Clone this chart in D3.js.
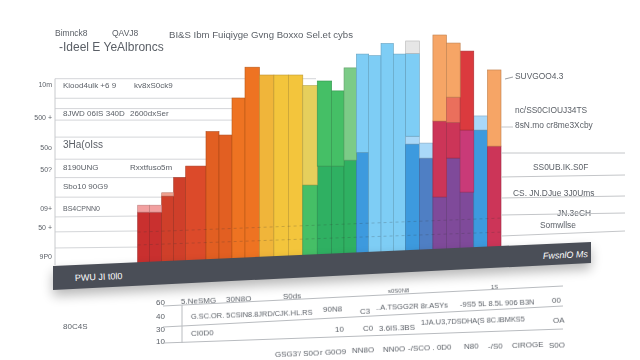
<!DOCTYPE html>
<html>
<head>
<meta charset="utf-8">
<script src="https://cdn.jsdelivr.net/npm/d3@7"></script>
<style>
  html, body { margin: 0; background: #fff; }
  text { font-family: "Liberation Sans", sans-serif; fill: #5a5f66; font-size: 8.5px; }
</style>
</head>
<body>
<div id="chart"></div>
<script>
// bar heights per layer, bottom to top (0 = layer not used)
const bars = d3.range(27);
const baseValues = [23, 23, 30, 38, 43, 58, 56.5, 72.6, 86, 82.6, 82.6, 82.6, 34.8, 43, 43, 45.6, 49, 91, 96.3, 91.7, 52.6, 46.5, 29.6, 46.5, 31.7, 58.7, 51.7];
const midValues = [3, 3, 1.4, 0, 0, 0, 0, 0, 0, 0, 0, 0, 43.2, 37, 32.7, 40.1, 42.7, 0, 0, 0, 3.4, 6.5, 33, 15.5, 27, 6.1, 33.1];
const upperValues = [0, 0, 0, 0, 0, 0, 0, 0, 0, 0, 0, 0, 0, 0, 0, 0, 0, 0, 0, 0, 36, 0, 37.4, 11, 34.3, 0, 0];
const capValues = [0, 0, 0, 0, 0, 0, 0, 0, 0, 0, 0, 0, 0, 0, 0, 0, 0, 0, 0, 0, 5.4, 0, 0, 23.5, 0, 0, 0];

const baseGroup = ["crimson", "crimson", "brick", "brick", "scarlet", "rust", "rust", "tangerine", "tangerine", "amber", "gold", "gold", "green", "deepgreen", "deepgreen", "deepgreen", "azure", "sky", "sky", "sky", "azure", "steel", "purple", "purple", "purple", "azure", "rose"];
const midGroup = ["pink", "pink", "salmon", "", "", "", "", "", "", "", "", "", "straw", "green", "green", "mint", "sky", "", "", "", "pale", "pale", "rose", "rose", "magenta", "pale", "peach"];
const upperGroup = ["", "", "", "", "", "", "", "", "", "", "", "", "", "", "", "", "", "", "", "", "sky", "", "peach", "coral", "red", "", ""];
const capGroup = ["", "", "", "", "", "", "", "", "", "", "", "", "", "", "", "", "", "", "", "", "mist", "", "", "peach", "", "", ""];

const groupNames = ["crimson", "brick", "scarlet", "rust", "tangerine", "amber", "gold", "straw", "green", "deepgreen", "mint", "azure", "sky", "pale", "mist", "steel", "purple", "rose", "magenta", "red", "coral", "peach", "salmon", "pink"];
const groupColors = ["#c9302f", "#cf3f2a", "#dc4a2a", "#e25f22", "#ee7322", "#f0b53a", "#f3c53c", "#e6cf5c", "#45bf66", "#2fb062", "#7ccb87", "#3d9ade", "#7ecdf5", "#a9d8f8", "#e6e6e6", "#4f7fc4", "#7f4a9a", "#cc3558", "#c93a78", "#db3a3e", "#ea6f5c", "#f6a566", "#f0a08e", "#f2a0a0"];

const yTickValues = [78.7, 64.3, 51.3, 41.7, 24.8, 16.5, 3.9];
const yTickLabels = ["10m", "500 +", "50o", "50?", "09+", "50 +", "9P0"];
const gridValues = [81, 72.5, 68, 63, 55.6, 46, 38, 29.5, 20.9, 14.4, 7.4];

const titleLeft = ["Bimnck8", "QAVJ8", "BI&S Ibm Fuiqiyge Gvng Boxxo Sel.et cybs"];
const subtitle = "-Ideel E YeAlbroncs";
const leftNotes = ["Kiood4ulk +6 9", "kv8xS0ck9", "8JWD 06IS 340D", "2600dxSer", "3Ha(oIss", "8190UNG", "Rxxtfuso5m", "Sbo10 90G9", "BS4CPNN0"];
const rightNotes = ["SUVGOO4.3", "nc/SS0CIOUJ34TS", "8sN.mo cr8me3Xcby", "SS0UB.IK.S0F", "CS. JN.DJue 3J0Ums", "JN.3eCH", "Somwllse"];
const tableTicks = ["60", "40", "30", "10"];
const tableText = ["5.NeSMG", "30N8O", "S0ds", "G.SC.OR. 5CSIN8.8JRD/CJK.HL.RS", "CI0D0", "90N8", "C3", "..A.TSGG2R 8r.ASYs", "-9S5 5L 8.5L 906 B3N", "00", "10", "C0", "3.6IS.3BS", "1JA.U3,7DSDHA(S 8C.lBMKS5", "OA", "GSG3'/ S0O", "r G0O9", "NN8O", "NN0O", "-/SCO . 0D0", "N80", "-/S0", "CIROGE", "S0O", "s0S0N8", "1S"];
const bandLeft = "PWU JI t0l0";
const bandRight = "FwsnlO Ms";

const width = 640;
const height = 360;

const svg = d3.select("#chart")
  .append("svg")
  .attr("width", width)
  .attr("height", height)
  .style("display", "block");

const defs = svg.append("defs");
defs.append("filter").attr("id", "shadow")
  .attr("x", "-5%").attr("y", "-60%").attr("width", "110%").attr("height", "240%")
  .append("feGaussianBlur").attr("stdDeviation", 6);
defs.append("filter").attr("id", "soft")
  .append("feGaussianBlur").attr("stdDeviation", 0.35);

// bars are not quite even in the picture, hence the knots
const x = d3.scaleLinear()
  .domain([0, 4, 5, 8, 14, 20, 27])
  .range([137.7, 185.7, 206, 245, 331.7, 405.7, 501]);
const y = d3.scaleLinear().domain([0, 100]).range([265, 35]);
const color = d3.scaleOrdinal().domain(groupNames).range(groupColors);

// grid and axis
const grid = svg.append("g");
grid.selectAll("line")
  .data(gridValues)
  .join("line")
  .attr("x1", 55)
  .attr("x2", (d, i) => i === 0 ? 316 : 240)
  .attr("y1", d => y(d))
  .attr("y2", (d, i) => y(d) - (i > 7 ? 2 : 0))
  .attr("stroke", "#d4d6d9")
  .attr("stroke-width", 1);
grid.append("line")
  .attr("x1", 55).attr("x2", 55)
  .attr("y1", y(81)).attr("y2", y(0))
  .attr("stroke", "#c8cacd");

const yAxis = d3.axisLeft(y)
  .tickValues(yTickValues)
  .tickFormat((d, i) => yTickLabels[i])
  .tickSize(0)
  .tickPadding(3);
svg.append("g")
  .attr("transform", "translate(55,0)")
  .call(yAxis)
  .call(g => g.select(".domain").remove())
  .selectAll("text")
  .style("font-size", "7px")
  .attr("filter", "url(#soft)");

// stacked bars
const table = bars.map(i => ({
  bar: i,
  base: baseValues[i], mid: midValues[i], upper: upperValues[i], cap: capValues[i]
}));
const layerKeys = ["base", "mid", "upper", "cap"];
const layerGroups = { base: baseGroup, mid: midGroup, upper: upperGroup, cap: capGroup };
const stacked = d3.stack().keys(layerKeys)(table);

svg.append("g").selectAll("g")
  .data(stacked)
  .join("g")
  .selectAll("rect")
  .data(s => s.map(d => ({ low: d[0], high: d[1], bar: d.data.bar, group: layerGroups[s.key][d.data.bar] })))
  .join("rect")
  .filter(d => d.high > d.low)
  .attr("x", d => x(d.bar))
  .attr("width", d => x(d.bar + 1) - x(d.bar))
  .attr("y", d => y(d.high))
  .attr("height", d => y(d.low) - y(d.high))
  .attr("fill", d => color(d.group))
  .attr("stroke", d => d3.color(color(d.group)).darker(0.7))
  .attr("stroke-width", 0.6);

// faint slanted lines of small print across the bars
const acrossValues = [[14.3, 20.4], [8.7, 14.3]];
svg.append("g").selectAll("line")
  .data(acrossValues)
  .join("line")
  .attr("x1", x(0)).attr("x2", x(27))
  .attr("y1", d => y(d[0])).attr("y2", d => y(d[1]))
  .attr("stroke", "#333").attr("stroke-opacity", 0.22)
  .attr("stroke-dasharray", "3 3");

// dark band under the bars
const bandTop = d3.scaleLinear().domain([53, 591]).range([266, 242]);
const bandBottom = d3.scaleLinear().domain([53, 591]).range([290, 263]);
const bandPath = d3.line()([
  [53, bandTop(53)], [591, bandTop(591)],
  [591, bandBottom(591)], [53, bandBottom(53)]
]) + "Z";
svg.append("path").attr("d", bandPath)
  .attr("transform", "translate(0,6)")
  .attr("fill", "#000").attr("opacity", 0.28)
  .attr("filter", "url(#shadow)");
svg.append("path").attr("d", bandPath).attr("fill", "#4a4e57");

svg.append("text").text(bandLeft)
  .attr("x", 75).attr("y", 281)
  .attr("transform", "rotate(-2.5 75 281)")
  .style("fill", "#fff").style("font-size", "9px");
svg.append("text").text(bandRight)
  .attr("x", 543).attr("y", 259)
  .attr("transform", "rotate(-2.5 543 259)")
  .style("fill", "#fff").style("font-size", "9px").style("font-style", "italic");

// title block
const label = (g, s, px, py, size) => g.append("text")
  .text(s).attr("x", px).attr("y", py)
  .style("font-size", size + "px")
  .attr("filter", "url(#soft)");

const texts = svg.append("g");
label(texts, titleLeft[0], 55, 36, 8.5);
label(texts, titleLeft[1], 112, 36, 8.5);
label(texts, titleLeft[2], 169, 38, 9.6);
label(texts, subtitle, 59, 51, 12);

// notes over the grid, left side
const leftNoteX = [63, 134, 63, 130, 63, 63, 130, 63, 63];
const leftNoteY = [88, 88, 116, 116, 148, 170, 170, 189, 211];
const leftNoteSize = [8, 8, 8, 8, 10, 8, 8, 8, 7];
leftNotes.forEach((s, i) => label(texts, s, leftNoteX[i], leftNoteY[i], leftNoteSize[i]));

// right side notes and rules
const rightNoteX = [515, 515, 515, 533, 513, 557, 540];
const rightNoteY = [79, 113, 128, 170, 196, 216, 228];
rightNotes.forEach((s, i) => label(texts, s, rightNoteX[i], rightNoteY[i], 8.4));

const rightRules = [[153, 153], [177, 175], [198, 196], [215, 213], [236, 231]];
svg.append("g").selectAll("line")
  .data(rightRules)
  .join("line")
  .attr("x1", 501).attr("x2", 625)
  .attr("y1", d => d[0]).attr("y2", d => d[1])
  .attr("stroke", "#c4c6c9");
svg.append("line").attr("x1", 505).attr("x2", 513).attr("y1", 79).attr("y2", 77).attr("stroke", "#9a9da1");
svg.append("line").attr("x1", 501).attr("x2", 513).attr("y1", 127).attr("y2", 127).attr("stroke", "#c4c6c9");

// lower table
const tableRules = [[163, 306, 563, 286], [163, 327, 563, 306], [163, 343, 563, 329]];
svg.append("g").selectAll("line")
  .data(tableRules)
  .join("line")
  .attr("x1", d => d[0]).attr("y1", d => d[1])
  .attr("x2", d => d[2]).attr("y2", d => d[3])
  .attr("stroke", "#b9bcc0");
svg.append("line").attr("x1", 182).attr("x2", 182).attr("y1", 305).attr("y2", 343).attr("stroke", "#b9bcc0");

const tableTickY = [305, 319, 332, 344];
tableTicks.forEach((s, i) => label(texts, s, 156, tableTickY[i], 8));
label(texts, "80C4S", 63, 329, 8);

const tableX = [181, 226, 283, 191, 191, 323, 360, 376, 460, 552, 335, 363, 379, 421, 553, 275, 320, 352, 383, 408, 464, 488, 512, 549, 388, 491];
const tableY = [304, 302, 299, 319, 336, 312, 314, 310, 307, 303, 332, 331, 331, 325, 323, 357, 355, 353, 352, 351, 349, 349, 348, 348, 293, 289];
const tableSize = [8, 8, 8, 7.4, 8, 8, 8, 7.6, 7.6, 8, 8, 8, 8, 7.4, 8, 8, 8, 8, 8, 8, 8, 8, 8, 8, 6, 6];
tableText.forEach((s, i) => {
  label(texts, s, tableX[i], tableY[i], tableSize[i])
    .attr("transform", `rotate(-2 ${tableX[i]} ${tableY[i]})`);
});
</script>
</body>
</html>
